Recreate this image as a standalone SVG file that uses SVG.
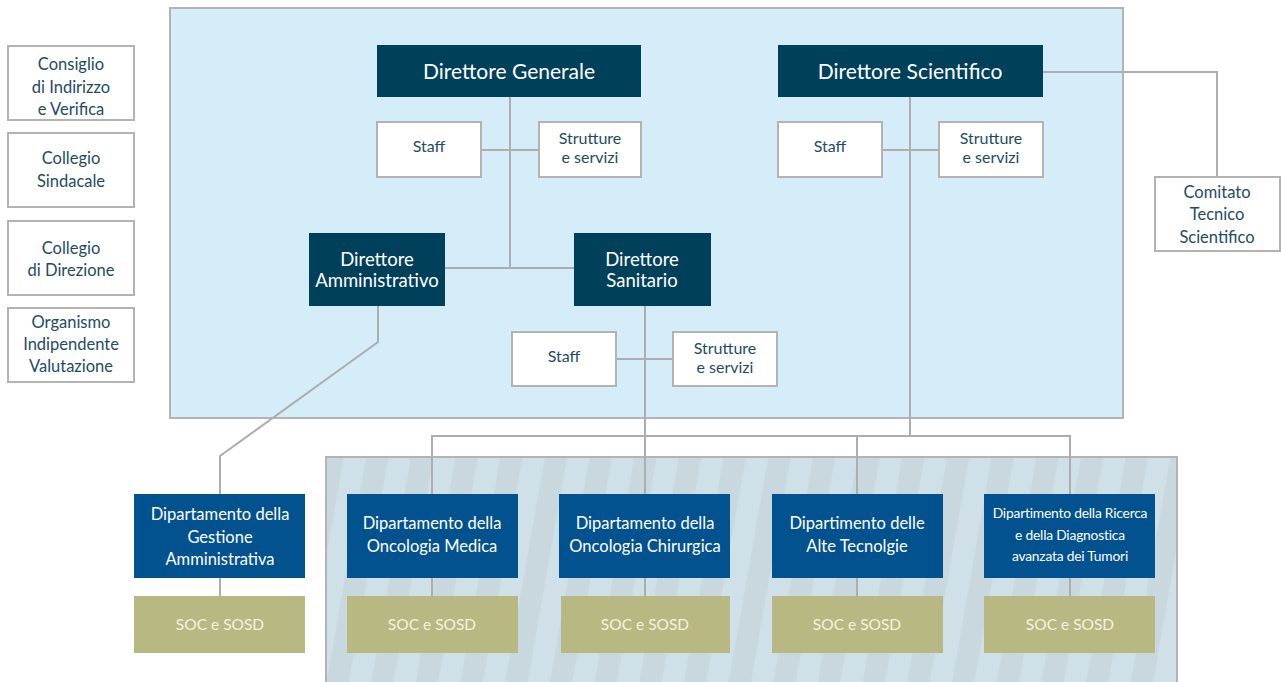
<svg xmlns="http://www.w3.org/2000/svg" width="1281" height="682" viewBox="0 0 1281 682">
<defs>
<pattern id="stripes" width="44" height="44" patternUnits="userSpaceOnUse" patternTransform="rotate(10)">
<rect x="0" y="0" width="44" height="44" fill="#cfe0e8"/>
<rect x="0" y="0" width="22" height="44" fill="#c8d8de"/>
</pattern>
<style>
.t{font-family:Lato,"Open Sans","Liberation Sans",sans-serif;text-anchor:middle}
.wb{fill:#ffffff;stroke:#b3b3b3;stroke-width:2}
.wt{fill:#1d4c62;font-size:16.5px}
.st{fill:#1d4c62;font-size:16px}
.dk{fill:#00405a}
.dt{fill:#ffffff;font-size:21px}
.dm{fill:#ffffff;font-size:18.5px}
.bl{fill:#02528f}
.bt{fill:#ffffff;font-size:16.5px}
.kh{fill:#b8b883}
.kt{fill:#f4f2de;font-size:15.5px}
.ln{fill:none;stroke:#adadad;stroke-width:2}
</style>
</defs>

<rect id="area-direzione" x="170" y="8" width="953" height="410" fill="#d4edf9" stroke="#b3b3b3" stroke-width="2"/>
<rect id="area-dipartimenti" x="326" y="457" width="851" height="240" fill="url(#stripes)" stroke="#b3b3b3" stroke-width="2"/>

<g id="connectors">
<path class="ln" d="M510 97 V268 M481 150 H539 M445 268 H574"/>
<path class="ln" d="M910 97 V436 M882 150 H939"/>
<path class="ln" d="M1043 72 H1217 V177"/>
<path class="ln" d="M645 306 V494 M616 359 H673"/>
<path class="ln" d="M378 306 V342 L220 456 V494"/>
<path class="ln" d="M432 494 V436 H1070 V494 M857 436 V494"/>
<path class="ln" d="M220 578 V596 M432 578 V596 M645 578 V596 M857 578 V596 M1070 578 V596"/>
</g>

<g id="consiglio">
<rect class="wb" x="8" y="46" width="126" height="74"/>
<text class="t wt" x="71" y="70">Consiglio</text>
<text class="t wt" x="71" y="93">di Indirizzo</text>
<text class="t wt" x="71" y="115">e Verifica</text>
</g>
<g id="collegio-sindacale">
<rect class="wb" x="8" y="133" width="126" height="74"/>
<text class="t wt" x="71" y="164">Collegio</text>
<text class="t wt" x="71" y="187">Sindacale</text>
</g>
<g id="collegio-direzione">
<rect class="wb" x="8" y="221" width="126" height="74"/>
<text class="t wt" x="71" y="254">Collegio</text>
<text class="t wt" x="71" y="276">di Direzione</text>
</g>
<g id="organismo">
<rect class="wb" x="8" y="308" width="126" height="74"/>
<text class="t wt" x="71" y="328">Organismo</text>
<text class="t wt" x="71" y="350">Indipendente</text>
<text class="t wt" x="71" y="372">Valutazione</text>
</g>

<g id="direttore-generale">
<rect class="dk" x="377" y="45" width="264" height="52"/>
<text class="t dt" x="509" y="79">Direttore Generale</text>
</g>
<g id="staff-dg">
<rect class="wb" x="377" y="122" width="104" height="55"/>
<text class="t st" x="429" y="152">Staff</text>
</g>
<g id="strutture-dg">
<rect class="wb" x="539" y="122" width="102" height="55"/>
<text class="t st" x="590" y="144">Strutture</text>
<text class="t st" x="590" y="163">e servizi</text>
</g>

<g id="direttore-scientifico">
<rect class="dk" x="778" y="45" width="265" height="52"/>
<text class="t dt" x="910" y="79">Direttore Scientifico</text>
</g>
<g id="staff-ds">
<rect class="wb" x="778" y="122" width="104" height="55"/>
<text class="t st" x="830" y="152">Staff</text>
</g>
<g id="strutture-ds">
<rect class="wb" x="939" y="122" width="104" height="55"/>
<text class="t st" x="991" y="144">Strutture</text>
<text class="t st" x="991" y="163">e servizi</text>
</g>

<g id="comitato">
<rect class="wb" x="1155" y="177" width="125" height="74"/>
<text class="t wt" x="1217" y="198">Comitato</text>
<text class="t wt" x="1217" y="220">Tecnico</text>
<text class="t wt" x="1217" y="243">Scientifico</text>
</g>

<g id="direttore-amministrativo">
<rect class="dk" x="309" y="233" width="136" height="73"/>
<text class="t dm" x="377" y="266">Direttore</text>
<text class="t dm" x="377" y="287">Amministrativo</text>
</g>
<g id="direttore-sanitario">
<rect class="dk" x="574" y="233" width="137" height="73"/>
<text class="t dm" x="642" y="266">Direttore</text>
<text class="t dm" x="642" y="287">Sanitario</text>
</g>
<g id="staff-dsan">
<rect class="wb" x="512" y="332" width="104" height="54"/>
<text class="t st" x="564" y="362">Staff</text>
</g>
<g id="strutture-dsan">
<rect class="wb" x="673" y="332" width="104" height="54"/>
<text class="t st" x="725" y="354">Strutture</text>
<text class="t st" x="725" y="373">e servizi</text>
</g>

<g id="dip-gestione">
<rect class="bl" x="134" y="494" width="171" height="84"/>
<text class="t bt" x="220" y="520">Dipartamento della</text>
<text class="t bt" x="220" y="543">Gestione</text>
<text class="t bt" x="220" y="565">Amministrativa</text>
</g>
<g id="dip-onc-medica">
<rect class="bl" x="347" y="494" width="171" height="84"/>
<text class="t bt" x="432" y="529">Dipartamento della</text>
<text class="t bt" x="432" y="552">Oncologia Medica</text>
</g>
<g id="dip-onc-chirurgica">
<rect class="bl" x="559" y="494" width="171" height="84"/>
<text class="t bt" x="645" y="529">Dipartamento della</text>
<text class="t bt" x="645" y="552">Oncologia Chirurgica</text>
</g>
<g id="dip-alte-tecnologie">
<rect class="bl" x="772" y="494" width="171" height="84"/>
<text class="t bt" x="857" y="529">Dipartimento delle</text>
<text class="t bt" x="857" y="552">Alte Tecnolgie</text>
</g>
<g id="dip-ricerca">
<rect class="bl" x="984" y="494" width="171" height="84"/>
<text class="t bt" x="1070" y="518" style="font-size:13.8px;letter-spacing:-0.2px">Dipartimento della Ricerca</text>
<text class="t bt" x="1070" y="540" style="font-size:13.8px;letter-spacing:-0.2px">e della  Diagnostica</text>
<text class="t bt" x="1070" y="561" style="font-size:13.8px;letter-spacing:-0.2px">avanzata dei Tumori</text>
</g>

<g id="soc-gestione">
<rect class="kh" x="134" y="596" width="171" height="57"/>
<text class="t kt" x="220" y="630">SOC e SOSD</text>
</g>
<g id="soc-onc-medica">
<rect class="kh" x="347" y="596" width="171" height="57"/>
<text class="t kt" x="432" y="630">SOC e SOSD</text>
</g>
<g id="soc-onc-chirurgica">
<rect class="kh" x="561" y="596" width="169" height="57"/>
<text class="t kt" x="645" y="630">SOC e SOSD</text>
</g>
<g id="soc-alte-tecnologie">
<rect class="kh" x="772" y="596" width="171" height="57"/>
<text class="t kt" x="857" y="630">SOC e SOSD</text>
</g>
<g id="soc-ricerca">
<rect class="kh" x="984" y="596" width="171" height="57"/>
<text class="t kt" x="1070" y="630">SOC e SOSD</text>
</g>
</svg>
